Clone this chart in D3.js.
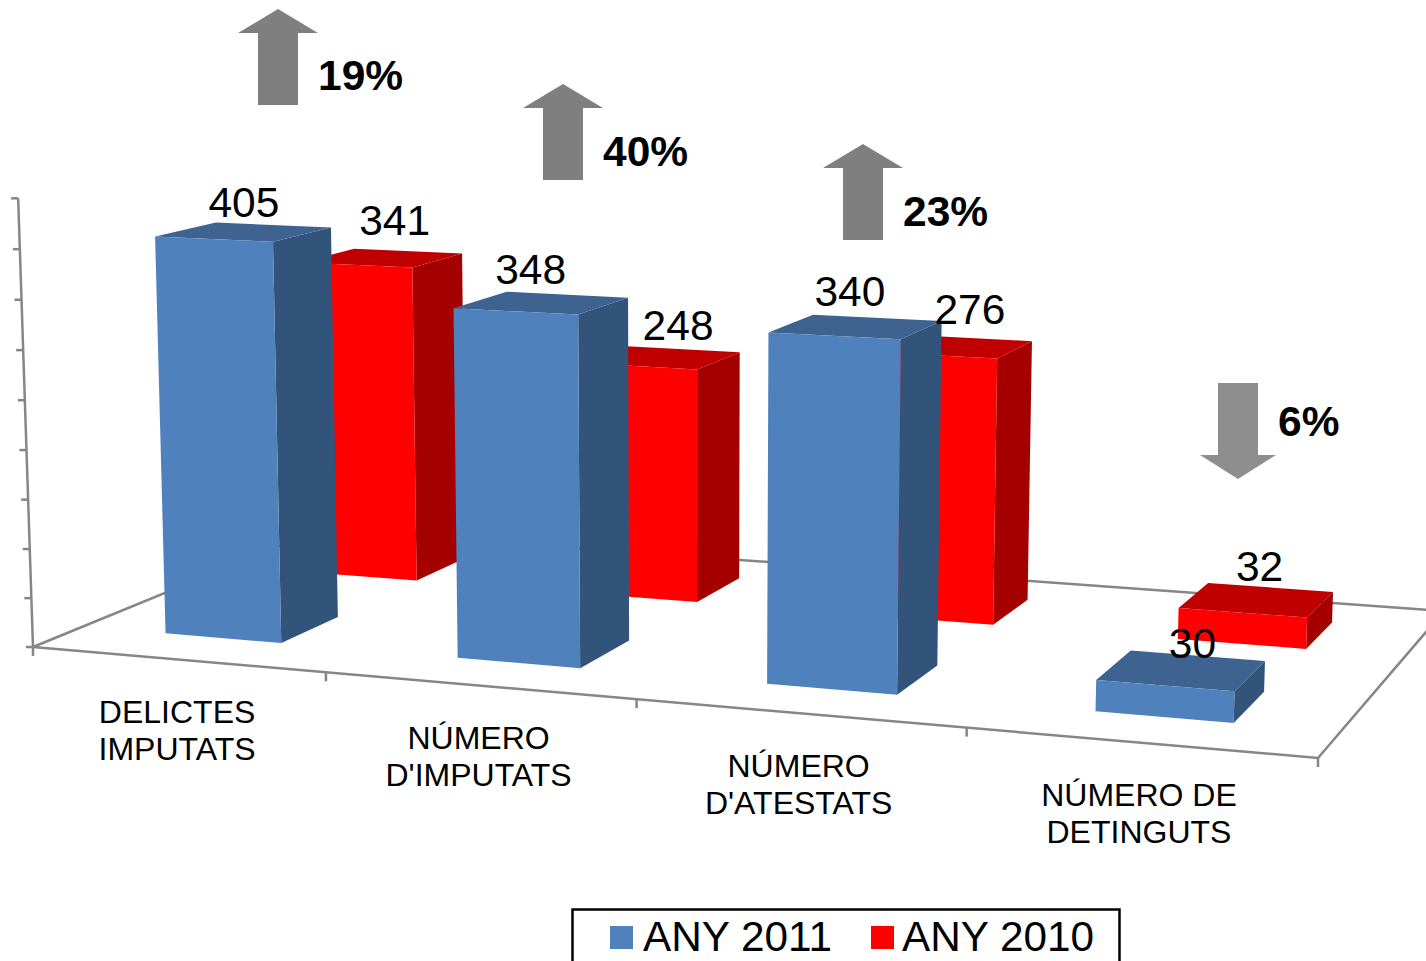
<!DOCTYPE html>
<html><head><meta charset="utf-8">
<style>html,body{margin:0;padding:0;background:#fff;overflow:hidden}text{font-family:"Liberation Sans",Arial,sans-serif}</style>
<script src="https://cdn.jsdelivr.net/npm/d3@7"></script></head>
<body><svg id="c" width="1426" height="961"></svg>
<script>
const categories=[["DELICTES","IMPUTATS"],["NÚMERO","D'IMPUTATS"],["NÚMERO","D'ATESTATS"],["NÚMERO DE","DETINGUTS"]];
const seriesNames=["ANY 2011","ANY 2010"];
const any2011=[405,348,340,30];
const any2010=[341,248,276,32];
const changes=["19%","40%","23%","6%"];
const directions=["up","up","up","down"];

const svg=d3.select("#c");
const quad=[[33,647],[1318,758],[1444,611],[320,529.5]];
const [p0,p1,p2,p3]=quad;
const sx=p0[0]-p1[0]+p2[0]-p3[0], sy=p0[1]-p1[1]+p2[1]-p3[1];
const dx1=p1[0]-p2[0],dx2=p3[0]-p2[0],dy1=p1[1]-p2[1],dy2=p3[1]-p2[1];
const den=dx1*dy2-dx2*dy1;
const g=(sx*dy2-dx2*sy)/den,h=(dx1*sy-sx*dy1)/den;
const a=p1[0]-p0[0]+g*p1[0],b=p3[0]-p0[0]+h*p3[0],c0=p0[0];
const d=p1[1]-p0[1]+g*p1[1],e=p3[1]-p0[1]+h*p3[1],f=p0[1];
const V=[690,20500];
const zScale=d3.scaleLinear().domain([0,450]).range([0,0.0221]);
function project(u,v,val){const k=zScale(val);const W=g*u+h*v+1-k;
  return [(a*u+b*v+c0-k*V[0])/W,(d*u+e*v+f-k*V[1])/W];}

const xBand=d3.scaleBand().domain(d3.range(categories.length)).range([-0.0015,0.9985]).paddingInner(0.597).paddingOuter(0.2985);
const depth=d3.scaleBand().domain(seriesNames).range([0.005,1.005]).paddingInner(0.6).paddingOuter(0.3);
const fills={"ANY 2011":{front:"#4F81BD",side:"#33547A",top:"#3E6390"},"ANY 2010":{front:"#FF0000",side:"#A50000",top:"#C00000"}};
const axisCol="#868686";
const path=pts=>"M"+pts.map(q=>q.join(",")).join("L")+"Z";

const floor=[project(0,0,0),project(1,0,0),project(1,1,0),project(0,1,0)];
svg.append("path").attr("d",path(floor)).attr("fill","#fff").attr("stroke",axisCol).attr("stroke-width",2.5);
const ag=svg.append("g").attr("stroke",axisCol).attr("stroke-width",2.5);
const axisTop=project(0,0,450);
ag.append("line").attr("x1",floor[0][0]).attr("y1",floor[0][1]).attr("x2",axisTop[0]).attr("y2",axisTop[1]);
zScale.ticks(9).forEach(t=>{const q=project(0,0,t);ag.append("line").attr("x1",q[0]).attr("y1",q[1]).attr("x2",q[0]-7).attr("y2",q[1]);});
d3.range(0,5).forEach(i=>{const q=project(i/4,0,0);ag.append("line").attr("x1",q[0]).attr("y1",q[1]).attr("x2",q[0]).attr("y2",q[1]+9);});

function bar(cat,ser,val){const u0=xBand(cat),u1=u0+xBand.bandwidth(),v0=depth(ser),v1=v0+depth.bandwidth();
  const col=fills[ser],G=svg.append("g");
  G.append("path").attr("d",path([project(u1,v0,0),project(u1,v1,0),project(u1,v1,val),project(u1,v0,val)])).attr("fill",col.side);
  G.append("path").attr("d",path([project(u0,v0,val),project(u1,v0,val),project(u1,v1,val),project(u0,v1,val)])).attr("fill",col.top);
  G.append("path").attr("d",path([project(u0,v0,0),project(u1,v0,0),project(u1,v0,val),project(u0,v0,val)])).attr("fill",col.front);
}
any2010.forEach((v,i)=>bar(i,seriesNames[1],v));
any2011.forEach((v,i)=>bar(i,seriesNames[0],v));

const nudge2011=[[0,5],[-11,1],[-6,-1],[11,8]];
const nudge2010=[[12,-3],[17,2],[16,-3],[3,1]];
function valueLabel(cat,ser,val,n){const um=xBand(cat)+xBand.bandwidth()/2,vm=depth(ser)+depth.bandwidth()/2;
  const q=project(um,vm,val);
  svg.append("text").attr("x",q[0]+n[0]).attr("y",q[1]-20+n[1]).attr("text-anchor","middle").attr("font-size",42.5).attr("fill","#000").text(val);}
any2011.forEach((v,i)=>valueLabel(i,seriesNames[0],v,nudge2011[i]));
any2010.forEach((v,i)=>valueLabel(i,seriesNames[1],v,nudge2010[i]));

categories.forEach((lines,i)=>{const q=project(xBand(i)+xBand.bandwidth()/2,0,0);
  lines.forEach((t,j)=>svg.append("text").attr("x",q[0]+1.5).attr("y",q[1]+64+37*j).attr("text-anchor","middle").attr("font-size",32).attr("fill","#000").text(t));});

const arrowCx=[278,563,863,1238],arrowTop=[9,84,144,383],arrowColors=["#7F7F7F","#7F7F7F","#7F7F7F","#8E8E8E"];
const arrowLen=96,arrowHead=24,headHalf=40,shaftHalf=20;
const labelX=[318,603,903,1278],labelY=[90,166,226,436];
changes.forEach((t,i)=>{const cx=arrowCx[i],y0=arrowTop[i],up=directions[i]==="up",hd=arrowHead;
  const L=arrowLen;
  const shape=up?[[cx,y0],[cx+headHalf,y0+hd],[cx+shaftHalf,y0+hd],[cx+shaftHalf,y0+L],[cx-shaftHalf,y0+L],[cx-shaftHalf,y0+hd],[cx-headHalf,y0+hd]]
   :[[cx-shaftHalf,y0],[cx+shaftHalf,y0],[cx+shaftHalf,y0+L-hd],[cx+headHalf-2,y0+L-hd],[cx,y0+L],[cx-headHalf+2,y0+L-hd],[cx-shaftHalf,y0+L-hd]];
  svg.append("path").attr("d",path(shape)).attr("fill",arrowColors[i]);
  svg.append("text").attr("x",labelX[i]).attr("y",labelY[i]).attr("font-size",42.5).attr("font-weight","bold").attr("fill","#000").text(t);
});

svg.append("rect").attr("x",572.5).attr("y",909.5).attr("width",547).attr("height",70).attr("fill","none").attr("stroke","#000").attr("stroke-width",2.5);
const legendX=[610,871],legendTx=[643,902];
seriesNames.forEach((s,i)=>{svg.append("rect").attr("x",legendX[i]).attr("y",926).attr("width",23).attr("height",23).attr("fill",fills[s].front);
  svg.append("text").attr("x",legendTx[i]).attr("y",951).attr("font-size",42.3).attr("fill","#000").text(s);});
</script></body></html>
